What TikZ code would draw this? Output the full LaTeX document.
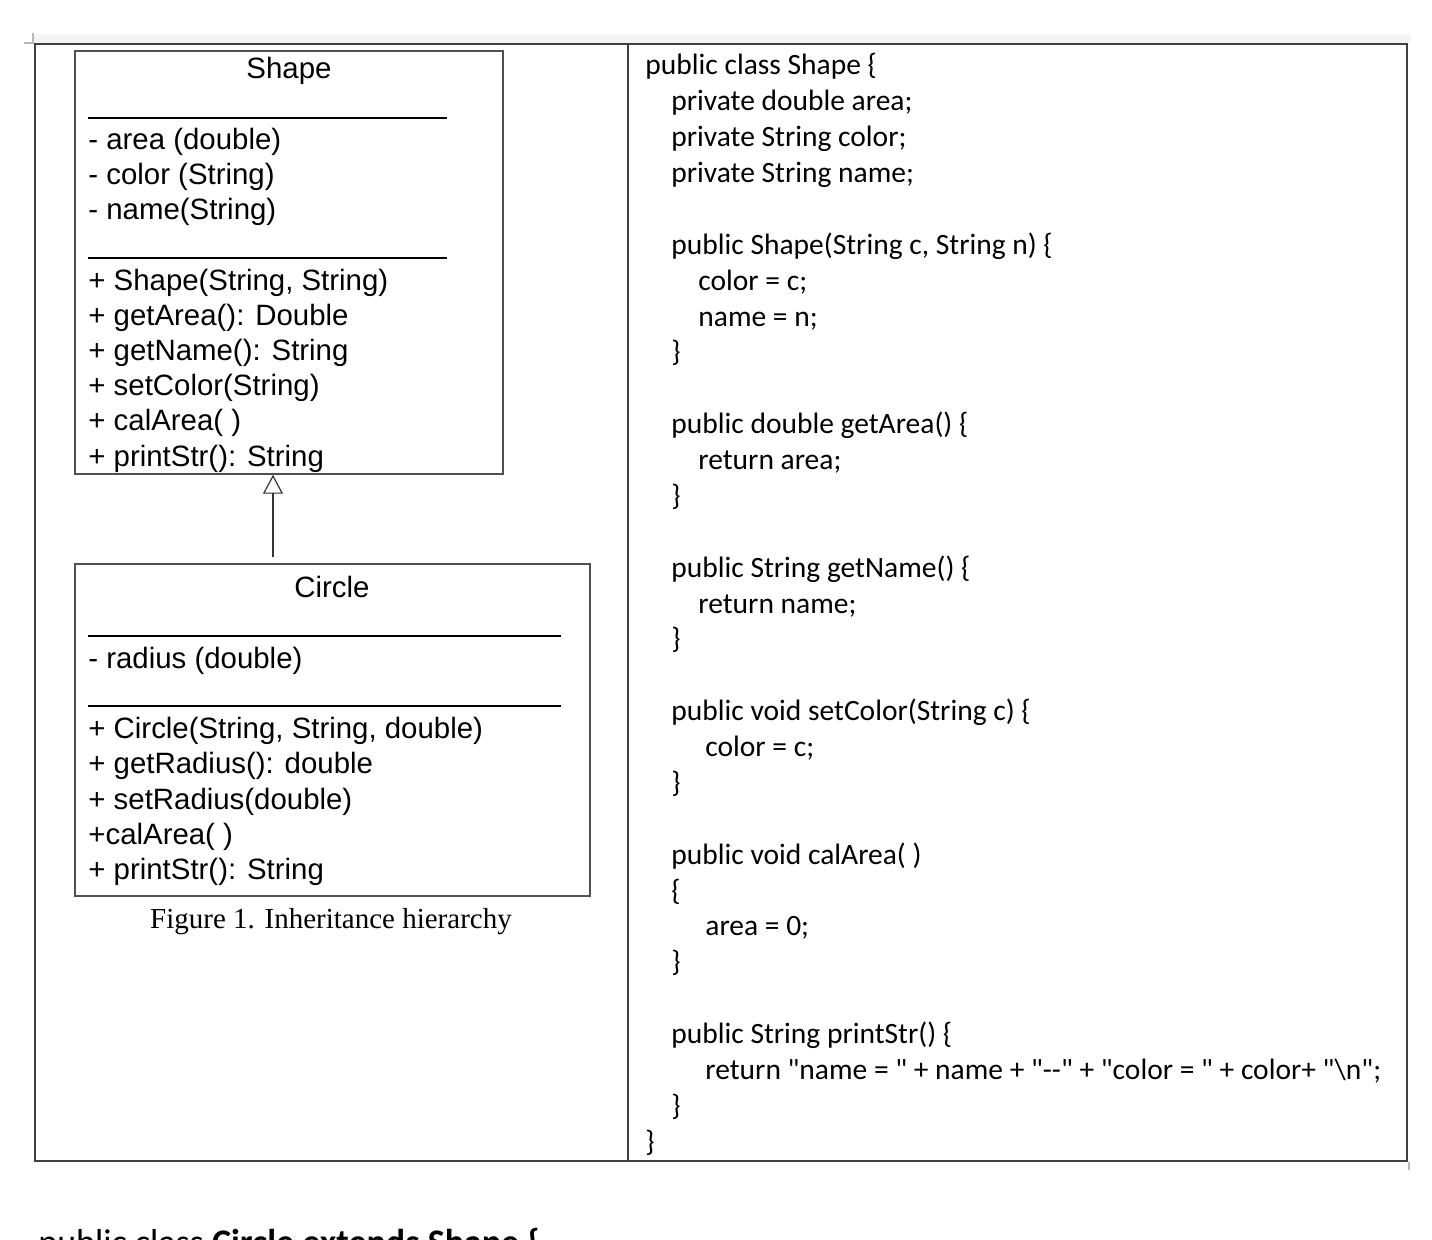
\documentclass[tikz,border=0pt]{standalone}
\usepackage{fontspec}
\usetikzlibrary{arrows.meta}
\newfontfamily\umlfont{Liberation Sans}
\newfontfamily\capfont{Liberation Serif}
\newfontfamily\codefont{Carlito}
\definecolor{frame}{HTML}{404040}
\definecolor{boxline}{HTML}{505050}
\definecolor{band}{HTML}{F4F4F4}
\definecolor{cornergray}{HTML}{B8B8B8}
\begin{document}
\begin{tikzpicture}[x=0.5pt,y=-0.5pt,
  umltext/.style={inner sep=0pt, anchor=base west, font=\umlfont\fontsize{14.7}{17}\selectfont},
  umltitle/.style={inner sep=0pt, anchor=base, font=\umlfont\fontsize{14.7}{17}\selectfont},
  code/.style={inner sep=0pt, anchor=base west, font=\codefont\fontsize{14.75}{17}\selectfont},
  umlbox/.style={draw=boxline, line width=0.75pt, inner sep=0pt},
  sepline/.style={line width=1pt, black},
  inh/.style={draw=black!80, line width=0.7pt, -{Triangle[open, width=10pt, length=9.5pt, line width=0.6pt]}},
  tableline/.style={draw=frame, line width=1pt},
  cornermark/.style={draw=cornergray, line width=0.8pt}
]
\useasboundingbox (0,0) rectangle (1432,1240);
\clip (0,0) rectangle (1432,1240);
% page header band and corner marks
\fill[band] (33,34) rectangle (1411,43);
\draw[cornermark] (33,33) -- (33,43) -- (24,43);
\draw[cornermark] (1409,1162) -- (1409,1170);
% table
\draw[tableline] (35,44) rectangle (1407,1161);
\draw[tableline] (628,44) -- (628,1161);

% Shape class box
\node[umlbox, minimum width=214pt, minimum height=211.5pt] (shape) at (289,262.5) {};
\node[umltitle] (shapeT) at (289,79) {Shape};
\draw[sepline] (88,118) -- (447,118);
\node[umltext] (sa1) at (88,149.4) {- area (double)};
\node[umltext] (sa2) at (88,184.6) {- color (String)};
\node[umltext] (sa3) at (88,219.8) {- name(String)};
\draw[sepline] (88,258) -- (447,258);
\node[umltext] (sm1) at (88,290.2) {+ Shape(String, String)};
\node[umltext] (sm2) at (88,325.4) {+ getArea(): Double};
\node[umltext] (sm3) at (88,360.6) {+ getName(): String};
\node[umltext] (sm4) at (88,395.8) {+ setColor(String)};
\node[umltext] (sm5) at (88,431) {+ calArea( )};
\node[umltext] (sm6) at (88,466.2) {+ printStr(): String};

% Circle class box
\node[umlbox, minimum width=257.5pt, minimum height=166pt] (circle) at (332.5,730) {};
\node[umltitle] (circleT) at (332,598) {Circle};
\draw[sepline] (88,636) -- (561,636);
\node[umltext] (ca1) at (88,668.4) {- radius (double)};
\draw[sepline] (88,706) -- (561,706);
\node[umltext] (cm1) at (88,738.8) {+ Circle(String, String, double)};
\node[umltext] (cm2) at (88,774) {+ getRadius(): double};
\node[umltext] (cm3) at (88,809.2) {+ setRadius(double)};
\node[umltext] (cm4) at (88,844.4) {+calArea( )};
\node[umltext] (cm5) at (88,879.6) {+ printStr(): String};

% inheritance arrow
\coordinate (ax) at (273,0);
\draw[inh, shorten <=3pt] (circle.north -| ax) -- (shape.south -| ax);

% caption
\node[inner sep=0pt, anchor=base, font=\capfont\fontsize{14.5}{17}\selectfont] (caption) at (331,929) {Figure 1. Inheritance hierarchy};

% code
\def\LZ{645}\def\LA{671}\def\LB{698}\def\LC{705}
\node[code] (k0) at (\LZ,75) {public class Shape \{};
\node[code] (k1) at (\LA,110.87) {private double area;};
\node[code] (k2) at (\LA,146.74) {private String color;};
\node[code] (k3) at (\LA,182.61) {private String name;};
\node[code] (k5) at (\LA,254.35) {public Shape(String c, String n) \{};
\node[code] (k6) at (\LB,290.22) {color = c;};
\node[code] (k7) at (\LB,326.09) {name = n;};
\node[code] (k8) at (\LA,361.96) {\}};
\node[code] (k10) at (\LA,433.7) {public double getArea() \{};
\node[code] (k11) at (\LB,469.57) {return area;};
\node[code] (k12) at (\LA,505.44) {\}};
\node[code] (k14) at (\LA,577.18) {public String getName() \{};
\node[code] (k15) at (\LB,613.05) {return name;};
\node[code] (k16) at (\LA,648.92) {\}};
\node[code] (k18) at (\LA,720.66) {public void setColor(String c) \{};
\node[code] (k19) at (\LC,756.53) {color = c;};
\node[code] (k20) at (\LA,792.4) {\}};
\node[code] (k22) at (\LA,864.14) {public void calArea( )};
\node[code] (k23) at (\LA,900.01) {\{};
\node[code] (k24) at (\LC,935.88) {area = 0;};
\node[code] (k25) at (\LA,971.75) {\}};
\node[code] (k27) at (\LA,1043.49) {public String printStr() \{};
\node[code] (k28) at (\LC,1079.36) {return "name = " + name + "-{}-" + "color = " + color+ "\textbackslash n";};
\node[code] (k29) at (\LA,1115.23) {\}};
\node[code] (k30) at (\LZ,1151.1) {\}};

% cut-off line below the table (cut by the page edge, as in the reference)
\node[inner sep=0pt, anchor=base west, font=\codefont\fontsize{18}{20}\selectfont] (next) at (38,1254) {public class \textbf{Circle extends Shape \{}};
\end{tikzpicture}
\end{document}
